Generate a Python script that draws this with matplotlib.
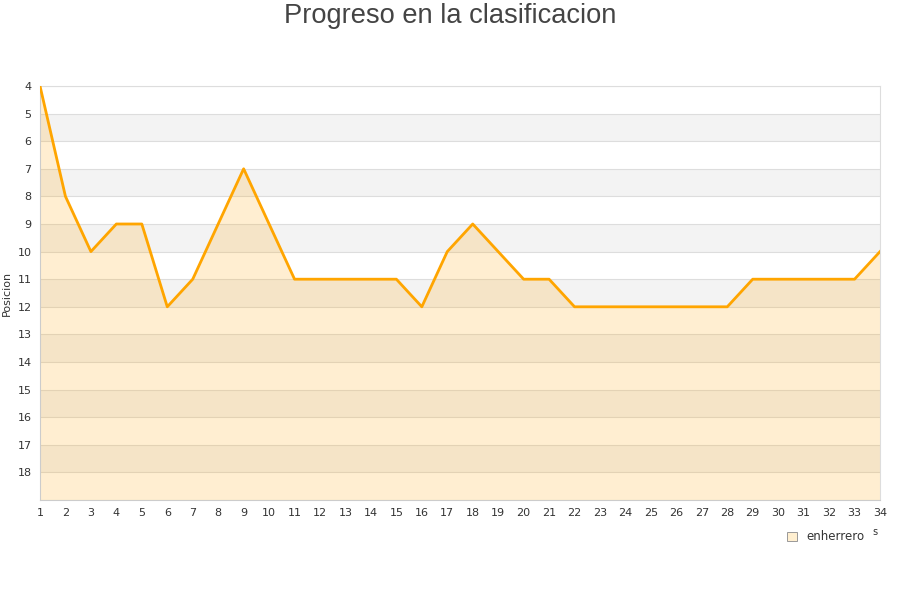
import matplotlib
matplotlib.use("Agg")
import matplotlib.pyplot as plt

rounds = list(range(1, 35))
positions = [4, 8, 10, 9, 9, 12, 11, 9, 7, 9, 11, 11, 11, 11, 11, 12, 10, 9, 10, 11,
             11, 12, 12, 12, 12, 12, 12, 12, 11, 11, 11, 11, 11, 10]
y_ticks = list(range(4, 19))
series_name = "enherrero"

fig = plt.figure(figsize=(9, 6), dpi=100)
ax = fig.add_axes([40/900, 100/600, 840/900, 414/600])

ymin, ymax = 4, 19
ax.set_xlim(1, 34)
ax.set_ylim(ymax, ymin)

# alternating bands
for y in range(ymin, ymax):
    if (y - ymin) % 2 == 1:
        ax.axhspan(y, y + 1, color="#f3f3f3", lw=0, zorder=0)
for y in range(ymin, ymax + 1):
    ax.axhline(y, color="#dddddd", lw=0.8, zorder=1)

ax.fill_between(rounds, positions, ymax, color="#ffa500", alpha=0.18, lw=0, zorder=2)
ax.plot(rounds, positions, color="#ffa500", lw=2, zorder=3)

ax.set_xticks(rounds)
ax.set_yticks(y_ticks)
ax.tick_params(axis="both", length=0, labelsize=8, colors="#333333", pad=6)
for s in ax.spines.values():
    s.set_color("#dddddd")
ax.spines["left"].set_color("#cccccc")
ax.spines["bottom"].set_color("#cccccc")

ax.set_ylabel("Posicion", fontsize=8, color="#333333", labelpad=4)
fig.text(0.5, 1 - 16/600, "Progreso en la clasificacion", ha="center", va="center",
         fontsize=19.6, color="#444444", family="Liberation Sans")

from matplotlib.patches import Patch
h = [Patch(facecolor="#ffefd0", edgecolor="#999999", lw=0.7, label=series_name)]
fig.legend(handles=h, loc="center", bbox_to_anchor=(826/900, 1 - 537/600), frameon=False,
           fontsize=8.5, handlelength=0.8, handleheight=0.8, handletextpad=0.8,
           labelcolor="#333333")
fig.text(875/900, 1 - 532/600, "s", fontsize=7, color="#333333", ha="center", va="center")

fig.savefig("out.png", dpi=100)
